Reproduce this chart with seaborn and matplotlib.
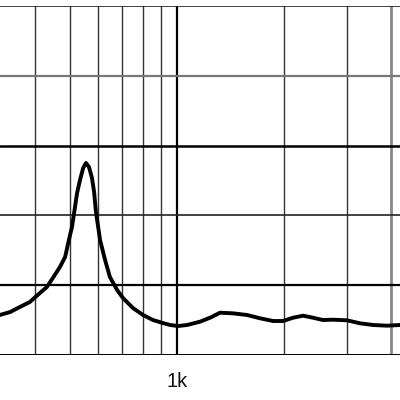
import matplotlib
matplotlib.use("Agg")
import matplotlib.pyplot as plt
import seaborn as sns
import pandas as pd

freq = [318, 340, 362, 386, 412, 431, 448, 469, 485, 497, 507, 514, 524, 534, 545,
        555, 566, 577, 585, 592, 608, 628, 648, 679, 705, 752, 803, 856, 913, 956,
        1007, 1067, 1160, 1238, 1321, 1437, 1573, 1711, 1861, 1985, 2118, 2259,
        2410, 2571, 2743, 3002, 3266, 3553, 3890, 4231]
value = [5.73, 6.16, 6.88, 7.59, 8.88, 9.74, 11.03, 12.61, 14.04, 16.48, 18.34,
         20.34, 23.21, 25.07, 26.79, 27.51, 26.93, 25.36, 23.35, 20.49, 16.48,
         13.61, 11.17, 9.31, 8.17, 6.73, 5.73, 5.01, 4.58, 4.30, 4.15, 4.30, 4.77,
         5.34, 6.06, 5.97, 5.73, 5.26, 4.87, 4.87, 5.34, 5.63, 5.34, 5.01, 5.06,
         4.97, 4.54, 4.30, 4.20, 4.30]

xgrid = [400, 500, 600, 700, 800, 900, 1000, 2000, 3000, 4000]
ygrid = [0, 10, 20, 30, 40, 50]
xlabels = ["", "", "", "", "", "", "1k", "", "", ""]

sns.set_theme(style="white")
plt.rcParams['font.family'] = ['Liberation Sans', 'DejaVu Sans']

df = pd.DataFrame({"freq": freq, "value": value})

fig = plt.figure(figsize=(4, 4), dpi=100)
ax = fig.add_axes([0, 45/400, 1, 349/400])
ax.set_xscale("log")
ax.set_xlim(318.3, 4230)
ax.set_ylim(0, 50)

# grid lines
vstyle = {1000: ("#000000", 1.6), 4000: ("#888888", 2.0)}
for f in xgrid:
    c, w = vstyle.get(f, ("#333333", 1.0))
    ax.axvline(f, color=c, lw=w, zorder=1)
hstyle = {0: ("#000000", 1.4), 10: ("#000000", 1.6), 20: ("#222222", 1.2),
          30: ("#000000", 1.8), 40: ("#777777", 1.6), 50: ("#222222", 1.2)}
for v in ygrid:
    c, w = hstyle[v]
    ax.axhline(v, color=c, lw=w, zorder=1)

sns.lineplot(data=df, x="freq", y="value", ax=ax, color="black", lw=2.8, zorder=3)

for s in ax.spines.values():
    s.set_visible(False)
ax.set_xticks(xgrid)
ax.set_xticklabels(xlabels)
ax.xaxis.set_minor_locator(matplotlib.ticker.NullLocator())
ax.tick_params(axis="x", length=0, pad=12, labelsize=14.5, labelcolor="#111111")
ax.set_yticks([])
ax.set_xlabel("")
ax.set_ylabel("")

fig.savefig("out.png", dpi=100)
